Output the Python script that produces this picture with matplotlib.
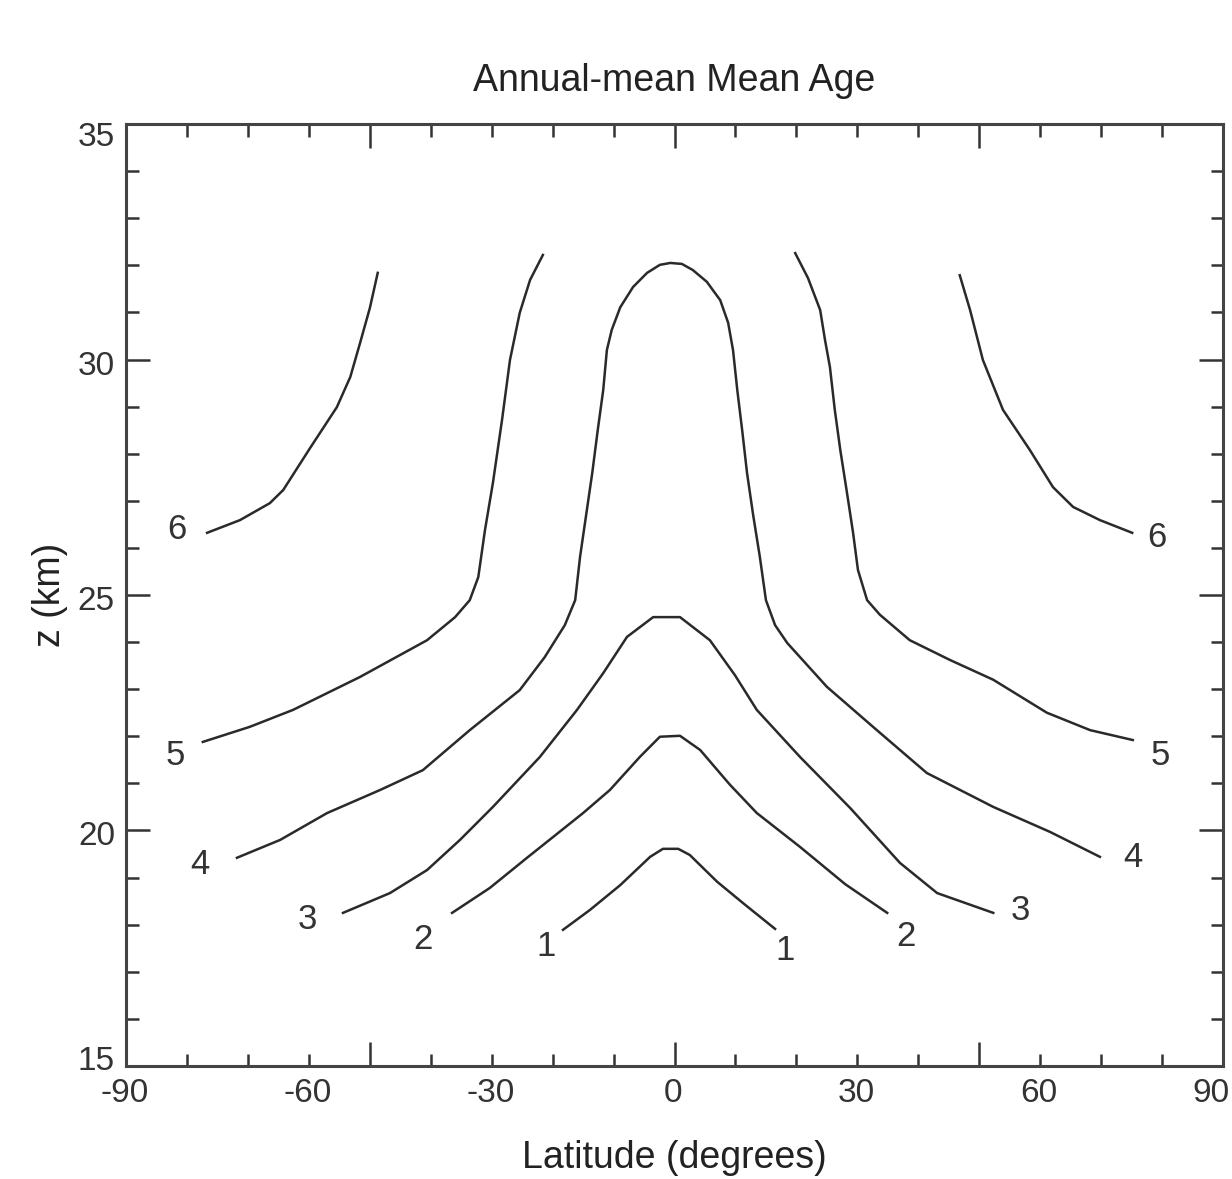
import matplotlib
matplotlib.use('Agg')
import matplotlib.pyplot as plt
import matplotlib.transforms as mtransforms
from matplotlib.ticker import MultipleLocator, FixedLocator

plt.rcParams['font.family'] = ['Liberation Sans', 'DejaVu Sans']

# contour lines of mean age (years): latitude (deg), z (km)
lat_1 = [-18.3, -13.9, -8.9, -4.0, -1.9, 0.6, 2.5, 7.0, 11.6, 16.5]
z_1 = [17.89, 18.31, 18.84, 19.44, 19.61, 19.61, 19.48, 18.91, 18.42, 17.91]

lat_2 = [-36.5, -30.3, -24.2, -15.0, -10.6, -5.7, -2.4, 0.9, 4.2, 9.1, 13.5, 20.6, 28.0, 34.9]
z_2 = [18.25, 18.78, 19.42, 20.37, 20.86, 21.56, 21.99, 22.01, 21.71, 20.97, 20.37, 19.65, 18.86, 18.25]

lat_3 = [-54.4, -46.7, -40.6, -35.2, -29.8, -22.1, -16.0, -11.7, -7.8, -3.5, 0.9, 5.8, 9.9,
         13.5, 20.6, 28.8, 37.0, 43.1, 52.3]
z_3 = [18.25, 18.67, 19.16, 19.80, 20.50, 21.56, 22.56, 23.34, 24.11, 24.53, 24.53, 24.04, 23.30,
       22.56, 21.56, 20.48, 19.31, 18.67, 18.25]

lat_4 = [-71.8, -64.7, -57.0, -48.3, -41.3, -33.6, -25.4, -21.3, -18.0, -16.3, -15.5, -14.5, -13.5,
         -12.6, -11.7, -11.1, -10.3, -8.9, -6.8, -4.5, -2.4, -0.7, 1.2, 3.0, 5.3, 7.5, 8.8, 9.6,
         10.3, 11.1, 11.9, 12.9, 14.0, 15.0, 16.5, 18.5, 25.0, 33.2, 41.4, 52.3, 61.6, 69.8]
z_4 = [19.42, 19.80, 20.37, 20.86, 21.28, 22.13, 22.98, 23.68, 24.36, 24.89, 25.81, 26.70, 27.59,
       28.50, 29.35, 30.20, 30.63, 31.11, 31.54, 31.84, 32.01, 32.05, 32.03, 31.90, 31.65, 31.26, 30.78, 30.20,
       29.35, 28.50, 27.59, 26.70, 25.81, 24.89, 24.36, 23.98, 23.05, 22.13, 21.22, 20.50, 19.97, 19.44]

lat_5_south = [-77.4, -69.7, -62.6, -51.6, -40.6, -36.0, -33.6, -32.2, -31.1, -29.8, -28.3, -27.0,
               -25.4, -23.7, -21.6]
z_5_south = [21.88, 22.20, 22.56, 23.26, 24.04, 24.53, 24.89, 25.38, 26.38, 27.38, 28.72, 29.99,
             30.99, 31.69, 32.22]
lat_5_north = [19.8, 21.9, 23.9, 24.7, 25.5, 26.3, 27.2, 28.3, 29.3, 30.1, 31.6, 33.7, 38.6, 45.2,
               52.3, 61.1, 68.2, 75.2]
z_5_north = [32.26, 31.73, 31.05, 30.41, 29.84, 28.93, 28.08, 27.17, 26.32, 25.53, 24.89, 24.58,
             24.04, 23.62, 23.20, 22.50, 22.13, 21.92]

lat_6_south = [-76.7, -71.3, -66.4, -64.2, -59.8, -55.4, -53.2, -51.6, -50.0, -48.7]
z_6_south = [26.32, 26.59, 26.95, 27.23, 28.12, 28.99, 29.63, 30.35, 31.09, 31.84]
lat_6_north = [46.8, 48.5, 50.6, 53.9, 58.3, 62.1, 65.4, 69.8, 75.1]
z_6_north = [31.79, 31.05, 29.99, 28.93, 28.08, 27.29, 26.87, 26.59, 26.32]

# contour labels
label_text = ['6', '5', '4', '3', '2', '1', '1', '2', '3', '4', '5', '6']
label_lat = [-81.6, -82.0, -77.9, -60.3, -41.3, -21.1, 18.1, 38.0, 56.7, 75.2, 79.7, 79.2]
label_z = [26.38, 21.60, 19.27, 18.10, 17.68, 17.53, 17.46, 17.74, 18.31, 19.42, 21.60, 26.21]

# axis labels
xtick_labels = [-90, -60, -30, 0, 30, 60, 90]
ytick_labels = [15, 20, 25, 30, 35]

lines = [(lat_1, z_1), (lat_2, z_2), (lat_3, z_3), (lat_4, z_4),
         (lat_5_south, z_5_south), (lat_5_north, z_5_north),
         (lat_6_south, z_6_south), (lat_6_north, z_6_north)]

fig = plt.figure(figsize=(12.32, 11.79), dpi=100)
ax = fig.add_axes([0.1023, 0.0959, 0.8904, 0.7989])

for la, zz in lines:
    ax.plot(la, zz, color='#2a2a2a', lw=1.8, solid_joinstyle='round')

for t, la, zz in zip(label_text, label_lat, label_z):
    ax.text(la, zz, t, ha='center', va='center', fontsize=25, color='#333333')

ax.set_xlim(-90, 90)
ax.set_ylim(15, 35)

# long x ticks at -50, 0, 50, short every 10
ax.xaxis.set_major_locator(FixedLocator([-50, 0, 50]))
ax.xaxis.set_minor_locator(MultipleLocator(10))
ax.set_xticklabels([])
ax.yaxis.set_major_locator(FixedLocator(ytick_labels))
ax.yaxis.set_minor_locator(MultipleLocator(1))
ax.tick_params(which='both', direction='in', top=True, right=True, color='#333333', width=1.8)
ax.tick_params(which='major', length=17)
ax.tick_params(which='minor', length=9)
ax.tick_params(axis='y', which='major', labelsize=24, pad=8, labelcolor='#333333')

# nudge y labels the way the original does (35 sits low, 15 sits high)
y_shift = {35: -10, 30: -3, 25: -3, 20: -3, 15: 8}
for lab, v in zip(ax.get_yticklabels(), ytick_labels):
    off = mtransforms.ScaledTranslation(0, y_shift[v] / 100.0, fig.dpi_scale_trans)
    lab.set_transform(lab.get_transform() + off)

# x labels every 30 deg, independent of the long ticks
for xv in xtick_labels:
    if xv == 90:
        ax.annotate(str(xv), (xv, 15), xytext=(5, -9), textcoords='offset points',
                    ha='right', va='top', fontsize=24, color='#333333', annotation_clip=False)
    else:
        ax.annotate(str(xv), (xv, 15), xytext=(-1, -9), textcoords='offset points',
                    ha='center', va='top', fontsize=24, color='#333333', annotation_clip=False)

for s in ax.spines.values():
    s.set_color('#444444')
    s.set_linewidth(2.2)

ax.set_title('Annual-mean Mean Age', fontsize=27, pad=24, color='#222222')
ax.set_xlabel('Latitude (degrees)', fontsize=27, labelpad=50, color='#222222')
ax.set_ylabel('z (km)', fontsize=27, labelpad=7, color='#222222')

fig.savefig('out.png', dpi=100)
